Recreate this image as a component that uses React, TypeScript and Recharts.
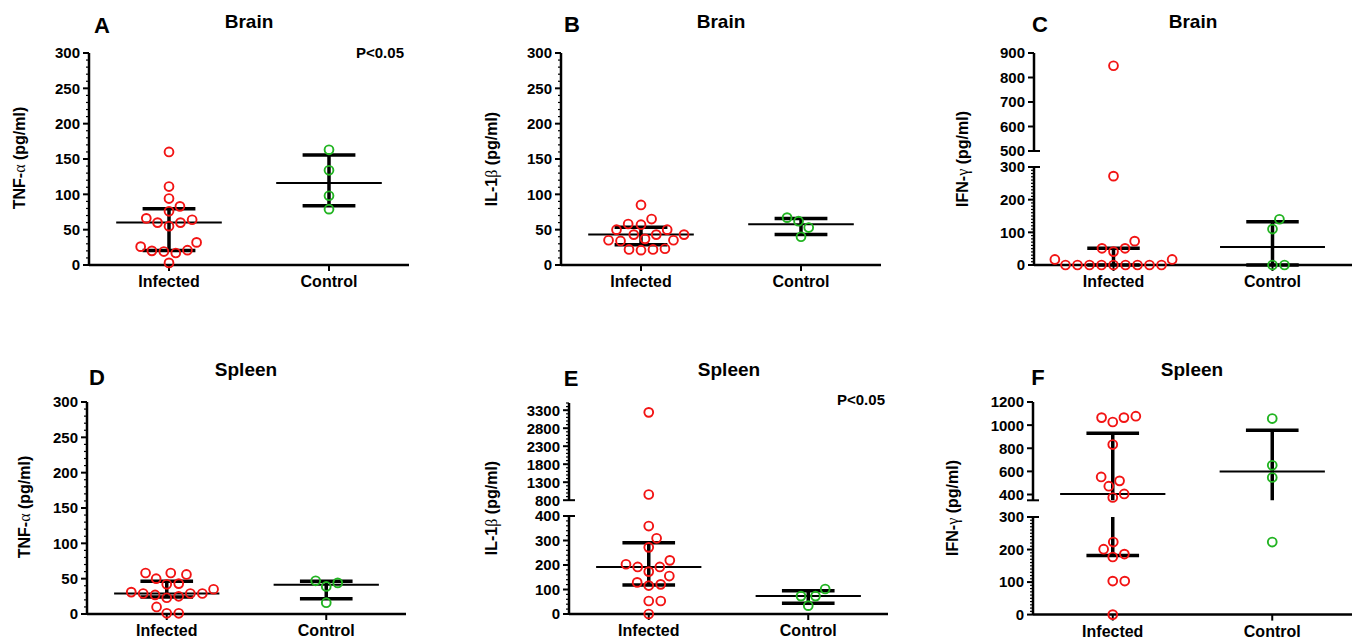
import React from 'react';
import { ScatterChart, Scatter, XAxis, YAxis, ReferenceLine } from 'recharts';

const groups = ['Infected', 'Control'];

// Brain
const brainTnfInfected = [160, 111, 94, 83, 76, 66, 60, 55, 60, 64, 32, 26, 21, 19, 17, 20, 3];
const brainTnfControl = [163, 134, 98, 79];
const brainIl1Infected = [85, 65, 57, 58, 50, 43, 43, 43, 50, 35, 34, 35, 37, 22, 21, 22, 23];
const brainIl1Control = [67, 62, 53, 40];
const brainIfnInfected = [848, 272, 73, 51, 41, 51, 17, 17, 0, 0, 0, 0, 0, 0, 0, 0, 0];
const brainIfnControl = [140, 110, 0, 0];

// Spleen
const spleenTnfInfected = [58, 58, 56, 50, 42, 43, 35, 29, 29, 23, 25, 27, 29, 31, 10, 1, 1];
const spleenTnfControl = [44, 47, 39, 16];
const spleenIl1Infected = [3240, 958, 359, 309, 272, 219, 203, 173, 192, 192, 155, 129, 116, 121, 53, 53, 0];
const spleenIl1Control = [102, 73, 73, 34];
const spleenIfnInfected = [1077, 1065, 1027, 1065, 832, 552, 472, 518, 405, 374, 223, 201, 177, 186, 103, 103, 0];
const spleenIfnControl = [1057, 653, 547, 223];

// tick labels
const ticks300 = [0, 50, 100, 150, 200, 250, 300];
const ticksBrainIfnLow = [0, 100, 200, 300];
const ticksBrainIfnHigh = [500, 600, 700, 800, 900];
const ticksSpleenIl1Low = [0, 100, 200, 300, 400];
const ticksSpleenIl1High = [800, 1300, 1800, 2300, 2800, 3300];
const ticksSpleenIfnLow = [0, 100, 200, 300];
const ticksSpleenIfnHigh = [400, 600, 800, 1000, 1200];

const FONT = '"Liberation Sans", Arial, sans-serif';
const RED = '#f21414';
const GREEN = '#22b422';

type Seg = { domain: [number, number]; top: number; bottom: number; major: number[]; minor: number };
type Panel = {
  letter: string;
  title: string;
  label: [string, string, string];
  p?: string;
  axisX: number;
  xEnd: number;
  segs: Seg[];
  infected: number[];
  control: number[];
  letterPos: [number, number];
  titlePos: [number, number];
  labelPos: [number, number];
  pPos?: [number, number];
};

const panels: Panel[] = [
  {
    letter: 'A', title: 'Brain', label: ['TNF-', 'α', ' (pg/ml)'], p: 'P<0.05',
    axisX: 89, xEnd: 409,
    segs: [{ domain: [0, 300], top: 53, bottom: 265, major: ticks300, minor: 10 }],
    infected: brainTnfInfected, control: brainTnfControl,
    letterPos: [102, 26], titlePos: [249, 21], labelPos: [20, 158], pPos: [380, 52],
  },
  {
    letter: 'B', title: 'Brain', label: ['IL-1', 'β', ' (pg/ml)'],
    axisX: 561, xEnd: 881,
    segs: [{ domain: [0, 300], top: 53, bottom: 265, major: ticks300, minor: 10 }],
    infected: brainIl1Infected, control: brainIl1Control,
    letterPos: [572, 25], titlePos: [721, 21], labelPos: [492, 159],
  },
  {
    letter: 'C', title: 'Brain', label: ['IFN-', 'γ', ' (pg/ml)'],
    axisX: 1034, xEnd: 1352,
    segs: [
      { domain: [500, 900], top: 53, bottom: 151, major: ticksBrainIfnHigh, minor: 0 },
      { domain: [0, 300], top: 167, bottom: 265, major: ticksBrainIfnLow, minor: 10 },
    ],
    infected: brainIfnInfected, control: brainIfnControl,
    letterPos: [1040, 25], titlePos: [1193, 21], labelPos: [963, 159],
  },
  {
    letter: 'D', title: 'Spleen', label: ['TNF-', 'α', ' (pg/ml)'],
    axisX: 87, xEnd: 406,
    segs: [{ domain: [0, 300], top: 402, bottom: 614, major: ticks300, minor: 10 }],
    infected: spleenTnfInfected, control: spleenTnfControl,
    letterPos: [97, 378], titlePos: [246, 369], labelPos: [25, 507],
  },
  {
    letter: 'E', title: 'Spleen', label: ['IL-1', 'β', ' (pg/ml)'], p: 'P<0.05',
    axisX: 569, xEnd: 888,
    segs: [
      { domain: [800, 3500], top: 402.8, bottom: 500, major: ticksSpleenIl1High, minor: 100 },
      { domain: [0, 400], top: 516, bottom: 614, major: ticksSpleenIl1Low, minor: 20 },
    ],
    infected: spleenIl1Infected, control: spleenIl1Control,
    letterPos: [571, 379], titlePos: [729, 369], labelPos: [492, 508], pPos: [861, 399],
  },
  {
    letter: 'F', title: 'Spleen', label: ['IFN-', 'γ', ' (pg/ml)'],
    axisX: 1033, xEnd: 1352,
    segs: [
      { domain: [350, 1200], top: 401.7, bottom: 500, major: ticksSpleenIfnHigh, minor: 0 },
      { domain: [0, 300], top: 516.7, bottom: 614.3, major: ticksSpleenIfnLow, minor: 10 },
    ],
    infected: spleenIfnInfected, control: spleenIfnControl,
    letterPos: [1038, 378], titlePos: [1192, 369], labelPos: [953, 508],
  },
];

// GraphPad style percentile, position p*(n+1)
const pct = (vals: number[], p: number) => {
  const s = [...vals].sort((a, b) => a - b);
  const pos = p * (s.length + 1) - 1;
  if (pos <= 0) return s[0];
  if (pos >= s.length - 1) return s[s.length - 1];
  const lo = Math.floor(pos);
  return s[lo] + (pos - lo) * (s[lo + 1] - s[lo]);
};

const toPx = (segs: Seg[], v: number) => {
  for (const s of segs) {
    if (v >= s.domain[0] && v <= s.domain[1]) {
      return s.bottom - ((v - s.domain[0]) / (s.domain[1] - s.domain[0])) * (s.bottom - s.top);
    }
  }
  return segs[segs.length - 1].top;
};

// simple beeswarm in pixel space, returned in data units
const swarm = (values: number[], segs: Seg[], center: number, pxPerX: number) => {
  const D = 12;
  const placed: { x: number; y: number; v: number }[] = [];
  [...values].sort((a, b) => a - b).forEach((v) => {
    const y = toPx(segs, v);
    const cands = [0];
    placed.forEach((p) => {
      const dy = Math.abs(p.y - y);
      if (dy < D) {
        const dx = Math.sqrt(D * D - dy * dy);
        cands.push(p.x + dx, p.x - dx);
      }
    });
    cands.sort((a, b) => Math.abs(a) - Math.abs(b) || b - a);
    const x = cands.find((c) => placed.every((p) => Math.hypot(p.x - c, p.y - y) >= D - 0.01)) ?? 0;
    placed.push({ x, y, v });
  });
  return placed.map((p) => ({ x: center + p.x / pxPerX, y: p.v }));
};

const range = (a: number, b: number, step: number) => {
  const out: number[] = [];
  for (let v = a; v <= b + 1e-9; v += step) out.push(v);
  return out;
};

const makeYTick = (seg: Seg, breaks: number[]) => (props: any) => {
  const { x, y, payload } = props;
  const v = payload.value;
  const major = seg.major.includes(v);
  const brk = breaks.includes(v);
  const len = major || brk ? 6 : 3;
  return (
    <g>
      <line x1={x - len} x2={brk ? x + 6 : x} y1={y} y2={y} stroke="#000" strokeWidth={major || brk ? 2 : 1.2} />
      {major && (
        <text x={x - 9} y={y} dy="0.36em" textAnchor="end" fontSize={15} fontWeight={700} fontFamily={FONT} fill="#000">
          {v}
        </text>
      )}
    </g>
  );
};

const Circle = (color: string) => (props: any) => (
  <circle cx={props.cx} cy={props.cy} r={4.4} fill="none" stroke={color} strokeWidth={1.9} />
);

const SegmentChart = ({ panel, segIndex }: { panel: Panel; segIndex: number }) => {
  const seg = panel.segs[segIndex];
  const isBottom = segIndex === panel.segs.length - 1;
  const broken = panel.segs.length > 1;
  const padT = 10;
  const padR = 12;
  const axisW = 60;
  const xAxisH = 34;
  const plotW = panel.xEnd - panel.axisX;
  const plotH = seg.bottom - seg.top;
  const width = axisW + plotW + padR;
  const height = padT + plotH + (isBottom ? xAxisH : 10);
  const pxPerX = plotW / 4;

  const inSeg = (v: number) => v >= seg.domain[0] && v <= seg.domain[1];
  const sets = [panel.infected, panel.control];
  const pts = sets.map((vals, i) => swarm(vals, panel.segs, i * 2 + 1, pxPerX).filter((p) => inSeg(p.y)));

  const breaks = broken ? [isBottom ? seg.domain[1] : seg.domain[0]] : [];
  const minor = seg.minor ? range(seg.domain[0], seg.domain[1], seg.minor) : [];
  const ticks = Array.from(new Set([...seg.major, ...minor, ...breaks])).sort((a, b) => a - b);

  const lines: { key: string; seg: { x: number; y: number }[]; w: number; clip: 'hidden' | 'discard' }[] = [];
  sets.forEach((vals, i) => {
    const c = i * 2 + 1;
    const med = pct(vals, 0.5);
    const q1 = pct(vals, 0.25);
    const q3 = pct(vals, 0.75);
    lines.push({ key: `v${i}`, seg: [{ x: c, y: q1 }, { x: c, y: q3 }], w: 3.5, clip: 'hidden' });
    lines.push({ key: `m${i}`, seg: [{ x: c - 0.66, y: med }, { x: c + 0.66, y: med }], w: 2, clip: 'discard' });
    lines.push({ key: `a${i}`, seg: [{ x: c - 0.33, y: q1 }, { x: c + 0.33, y: q1 }], w: 3.5, clip: 'discard' });
    lines.push({ key: `b${i}`, seg: [{ x: c - 0.33, y: q3 }, { x: c + 0.33, y: q3 }], w: 3.5, clip: 'discard' });
  });

  return (
    <div style={{ position: 'absolute', left: panel.axisX - axisW, top: seg.top - padT }}>
      <ScatterChart width={width} height={height} margin={{ top: padT, right: padR, bottom: isBottom ? 0 : 10, left: 0 }}>
        <XAxis
          type="number"
          dataKey="x"
          domain={[0, 4]}
          ticks={[1, 3]}
          interval={0}
          hide={!isBottom}
          height={xAxisH}
          tickFormatter={(v: number) => groups[(v - 1) / 2]}
          axisLine={{ stroke: '#000', strokeWidth: 2.5 }}
          tickLine={{ stroke: '#000', strokeWidth: 2 }}
          tickSize={6}
          tickMargin={5}
          tick={{ fill: '#000', fontSize: 16, fontWeight: 700, fontFamily: FONT }}
        />
        <YAxis
          type="number"
          dataKey="y"
          domain={seg.domain}
          ticks={ticks}
          interval={0}
          width={axisW}
          tickSize={0}
          tickMargin={0}
          tickLine={false}
          axisLine={{ stroke: '#000', strokeWidth: 2.5 }}
          tick={makeYTick(seg, breaks)}
        />
        <Scatter data={pts[0]} shape={Circle(RED)} isAnimationActive={false} />
        <Scatter data={pts[1]} shape={Circle(GREEN)} isAnimationActive={false} />
        {lines.map((l) => (
          <ReferenceLine key={l.key} segment={l.seg} stroke="#000" strokeWidth={l.w} ifOverflow={l.clip} />
        ))}
      </ScatterChart>
    </div>
  );
};

const Text = ({ pos, size, children, rotate }: { pos: [number, number]; size: number; children: React.ReactNode; rotate?: boolean }) => (
  <div
    style={{
      position: 'absolute',
      left: pos[0],
      top: pos[1],
      transform: `translate(-50%, -50%)${rotate ? ' rotate(-90deg)' : ''}`,
      fontSize: size,
      fontWeight: 700,
      fontFamily: FONT,
      whiteSpace: 'nowrap',
      lineHeight: 1,
      color: '#000',
    }}
  >
    {children}
  </div>
);

export default function App() {
  return (
    <div style={{ position: 'absolute', left: 0, top: 0, width: 1355, height: 640, overflow: 'hidden', background: '#fff' }}>
      {panels.map((panel) => (
        <React.Fragment key={panel.letter}>
          {panel.segs.map((_, i) => (
            <SegmentChart key={i} panel={panel} segIndex={i} />
          ))}
          <Text pos={panel.letterPos} size={22}>{panel.letter}</Text>
          <Text pos={panel.titlePos} size={19}>{panel.title}</Text>
          <Text pos={panel.labelPos} size={16} rotate>
            {panel.label[0]}
            <span style={{ fontWeight: 400, fontFamily: '"Liberation Serif", serif' }}>{panel.label[1]}</span>
            {panel.label[2]}
          </Text>
          {panel.p && panel.pPos && <Text pos={panel.pPos} size={15}>{panel.p}</Text>}
        </React.Fragment>
      ))}
    </div>
  );
}
